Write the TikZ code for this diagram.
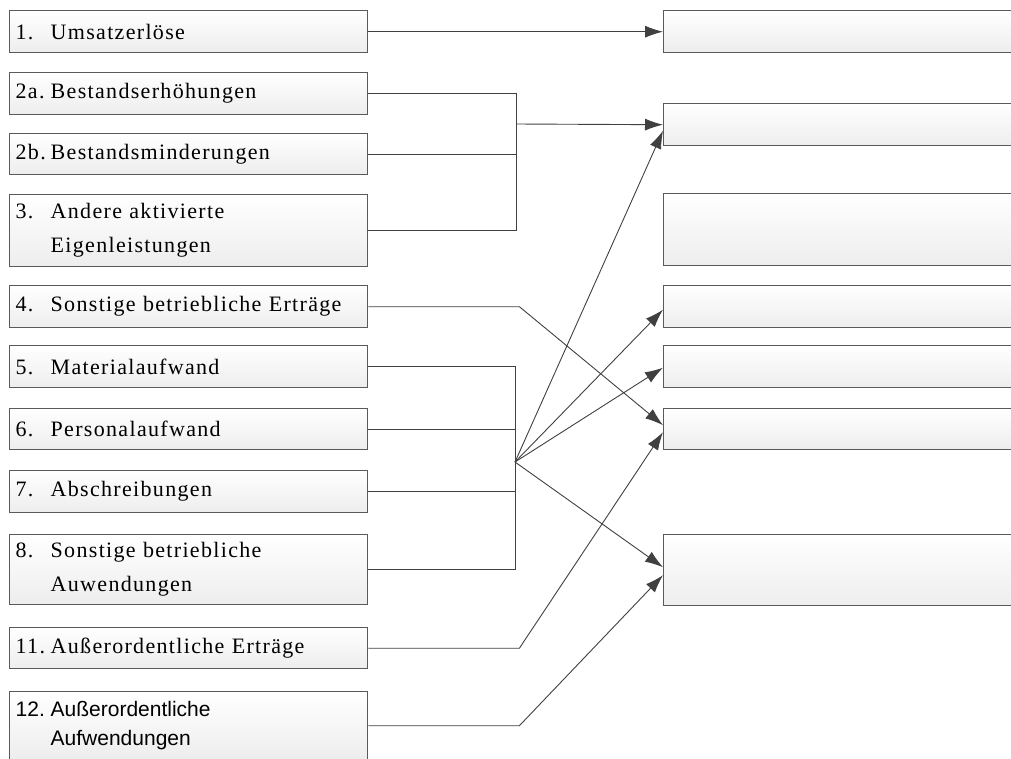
\documentclass[tikz,border=0pt]{standalone}
\usepackage{fontspec}
\setmainfont{Liberation Serif}[LetterSpace=6]
\newfontfamily\postensans{Liberation Sans}
\usepackage{tikz}
\usetikzlibrary{arrows.meta,positioning}
\definecolor{linegray}{HTML}{404040}
\definecolor{boxgray}{HTML}{5A5A5A}
\newcommand{\posten}[2]{\noindent\makebox[35pt][l]{#1}\parbox[t]{311pt}{#2}}

\begin{document}
\begin{tikzpicture}[x=1pt,y=-1pt,
  item/.style={draw=boxgray,line width=1.4pt,top color=white,bottom color=black!7,anchor=north west,minimum height=42pt,text width=346pt,inner xsep=6pt,inner ysep=0pt,align=left,font=\fontsize{22}{34}\selectfont},
  result/.style={draw=boxgray,line width=1.4pt,top color=white,bottom color=black!7,anchor=north west,minimum width=352pt,minimum height=42pt},
  edge/.style={line width=0.9pt,draw=linegray},
  arrow/.style={edge,-{Latex[length=18pt,width=12pt]}}]
\useasboundingbox (0,0) rectangle (1011,758);

\node(l1)[item] at (9,10) {\posten{1.}{Umsatzerlöse}};
\node(l2a)[item] at (9,72) {\posten{2a.}{Bestandserhöhungen}};
\node(l2b)[item,minimum height=41pt] at (9,133) {\posten{2b.}{Bestandsminderungen}};
\node(l3)[item,minimum height=72pt] at (9,194) {\posten{3.}{Andere aktivierte\\Eigenleistungen}};
\node(l4)[item] at (9,285) {\posten{4.}{Sonstige betriebliche Erträge}};
\node(l5)[item] at (9,345) {\posten{5.}{Materialaufwand}};
\node(l6)[item,minimum height=41pt] at (9,408) {\posten{6.}{Personalaufwand}};
\node(l7)[item] at (9,470) {\posten{7.}{Abschreibungen}};
\node(l8)[item,minimum height=70pt] at (9,534) {\posten{8.}{Sonstige betriebliche\\Auwendungen}};
\node(l11)[item,minimum height=41pt] at (9,627) {\posten{11.}{Außerordentliche Erträge}};
\node(l12)[item,minimum height=68pt,font=\postensans\fontsize{21}{29}\selectfont] at (9,691) {\posten{12.}{Außerordentliche\\Aufwendungen}};

\node(r1)[result] at (663,10) {};
\node(r2)[result] at (663,103) {};
\node(r3)[result,minimum height=72pt] at (663,193) {};
\node(r4)[result] at (663,285) {};
\node(r5)[result] at (663,345) {};
\node(r6)[result,minimum height=41pt] at (663,408) {};
\node(r7)[result,minimum height=71pt] at (663,534) {};

\coordinate (bus) at (516,124);
\coordinate (hub) at (515,462);

\draw [arrow] (l1) -- (r1);
\draw [edge] (l2a.east) -- (l2a.east -| bus) -- (l3.east -| bus) -- (l3.east);
\draw [edge] (l2b.east) -- (l2b.east -| bus);
\draw [arrow] (bus) -- (r2.west);
\draw [edge] (l5.east) -- (l5.east -| hub) -- (l8.east -| hub) -- (l8.east);
\draw [edge] (l6.east) -- (l6.east -| hub);
\draw [edge] (l7.east) -- (l7.east -| hub);
\draw [arrow] (hub) -- ([yshift=-6pt]r2.west);
\draw [arrow] (hub) -- ([yshift=-3pt]r4.west);
\draw [arrow] (hub) -- ([yshift=-1pt]r5.west);
\draw [arrow] (hub) -- ([yshift=3pt]r7.west);
\draw [arrow] (l4.east) -- ++(151,0) -- ([yshift=4pt]r6.west);
\draw [arrow] (l11.east) -- ++(151,0) -- ([yshift=-3pt]r6.west);
\draw [arrow] (l12.east) -- ++(151,0) -- ([yshift=-5pt]r7.west);
\end{tikzpicture}
\end{document}
